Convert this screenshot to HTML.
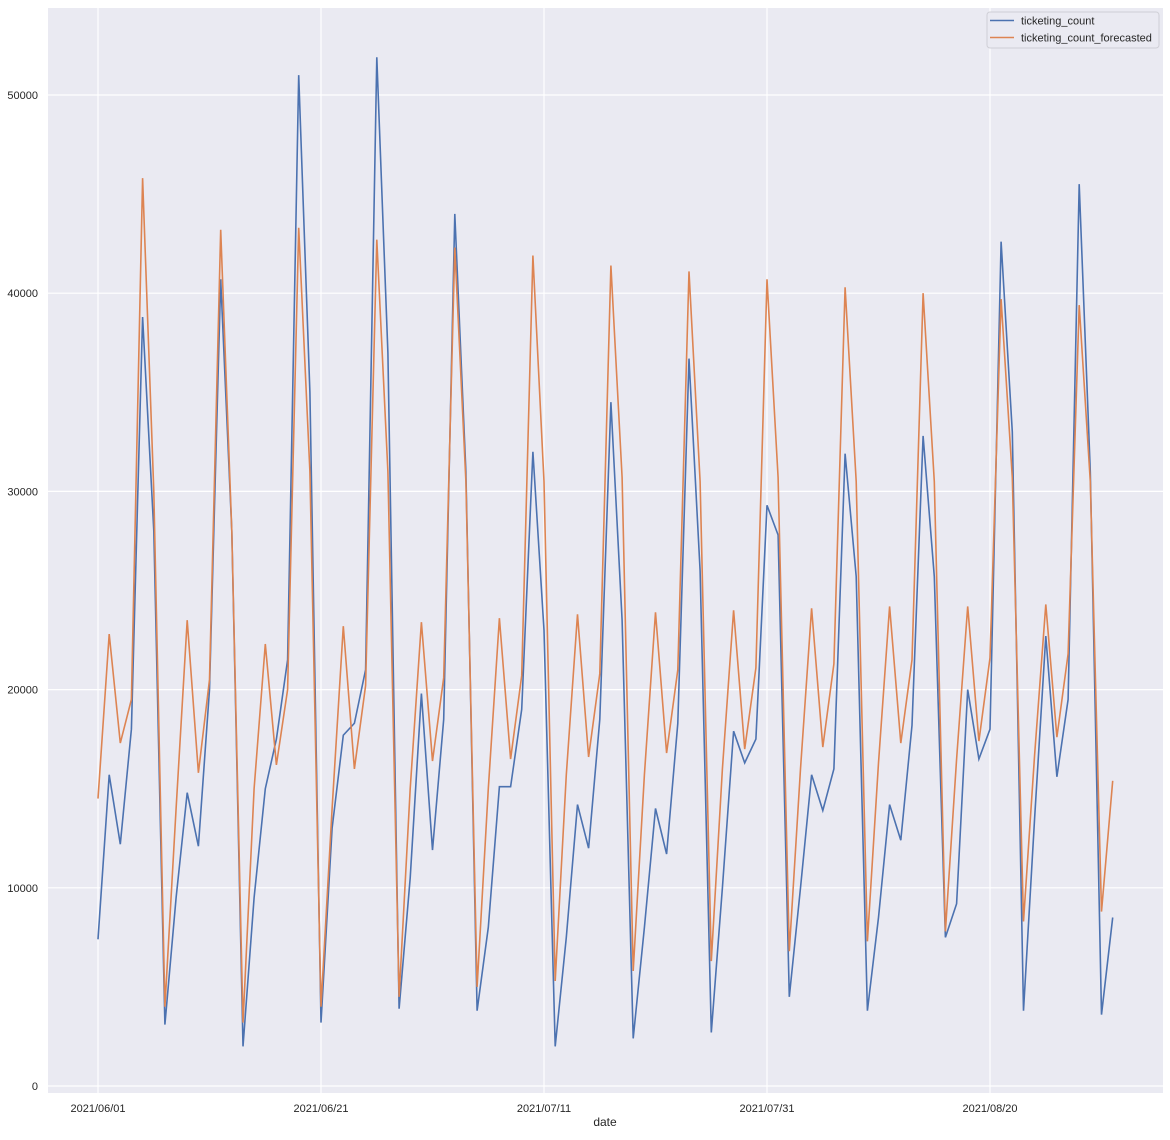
<!DOCTYPE html>
<html><head><meta charset="utf-8"><style>
body{margin:0;background:#fff;width:1170px;height:1135px;overflow:hidden}
svg text{font-family:"Liberation Sans",Arial,sans-serif;fill:#262626}
</style></head><body>
<svg id="s" width="1170" height="1135" xmlns="http://www.w3.org/2000/svg">
<rect x="48" y="8" width="1115" height="1085" fill="#eaeaf2"/>
<g id="grid" stroke="#fff" stroke-width="1.2"></g>
<g id="lab" font-size="11"></g>
<polyline id="b" fill="none" stroke="#4c72b0" stroke-width="1.6"/>
<polyline id="o" fill="none" stroke="#dd8452" stroke-width="1.6"/>
<rect x="987" y="12" width="172" height="36" rx="3" fill="#eaeaf2" stroke="#cfcfd6" stroke-width="1"/>
<line x1="990" y1="20.5" x2="1014" y2="20.5" stroke="#4c72b0" stroke-width="1.6"/>
<line x1="990" y1="37.5" x2="1014" y2="37.5" stroke="#dd8452" stroke-width="1.6"/>
<text x="1021" y="24.5" font-size="11">ticketing_count</text>
<text x="1021" y="41.5" font-size="11">ticketing_count_forecasted</text>
<text x="605" y="1126" font-size="12" text-anchor="middle">date</text>
</svg>
<script>
var B=[7400,15700,12200,18000,38800,28000,3100,9500,14800,12100,20000,40700,28000,2000,9500,15000,17500,21500,51000,35000,3200,13000,17700,18300,21000,51900,37000,3900,10500,19800,11900,18500,44000,31000,3800,8000,15100,15100,19000,32000,23000,2000,7500,14200,12000,18500,34500,23500,2400,8000,14000,11700,18300,36700,26000,2700,10000,17900,16300,17500,29300,27800,4500,10000,15700,13900,16000,31900,25700,3800,8500,14200,12400,18200,32800,25700,7500,9200,20000,16500,18000,42600,33000,3800,13500,22700,15600,19500,45500,31000,3600,8500];
var O=[14500,22800,17300,19500,45800,30000,4000,14000,23500,15800,20500,43200,28000,3200,15000,22300,16200,20000,43300,31000,4000,14000,23200,16000,20200,42700,31000,4500,15000,23400,16400,20600,42300,30500,5000,15000,23600,16500,20700,41900,30500,5300,15700,23800,16600,20800,41400,30700,5800,15700,23900,16800,21000,41100,30500,6300,16000,24000,17000,21100,40700,30700,6800,16000,24100,17100,21300,40300,30500,7300,16300,24200,17300,21500,40000,30500,7800,16500,24200,17400,21600,39700,30700,8300,16700,24300,17600,21800,39400,30500,8800,15400];
function X(i){return 98+i*11.15}function Y(v){return 1086-v*0.01982}
function pts(a){return a.map(function(v,i){return X(i).toFixed(1)+","+Y(v).toFixed(1)}).join(" ")}
document.getElementById("b").setAttribute("points",pts(B));
document.getElementById("o").setAttribute("points",pts(O));
var g=document.getElementById("grid"),l=document.getElementById("lab"),ns="http://www.w3.org/2000/svg",h="";
var t="";
for(var v=0;v<=50000;v+=10000){var y=Y(v);h+='<line x1="48" x2="1163" y1="'+y+'" y2="'+y+'"/>';t+='<text x="38" y="'+(y+4)+'" text-anchor="end">'+v+'</text>';}
var d=["2021/06/01","2021/06/21","2021/07/11","2021/07/31","2021/08/20"];
for(var k=0;k<5;k++){var x=X(k*20);h+='<line y1="8" y2="1093" x1="'+x+'" x2="'+x+'"/>';t+='<text x="'+x+'" y="1112" text-anchor="middle">'+d[k]+'</text>';}
g.innerHTML=h;l.innerHTML=t;
</script>
</body></html>
